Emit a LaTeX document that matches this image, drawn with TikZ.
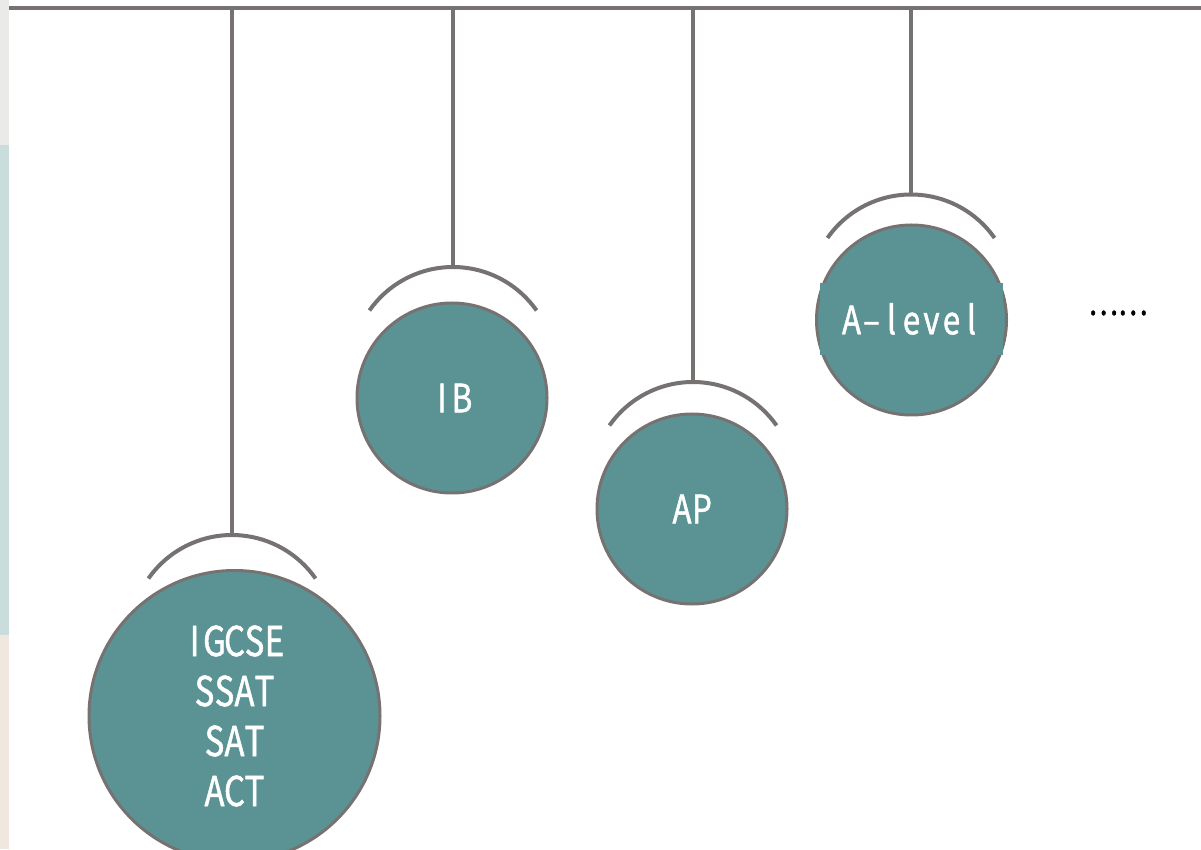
\documentclass[tikz,border=0pt]{standalone}
\usepackage{fontspec}
\setmainfont{Noto Sans CJK SC}[FakeStretch=0.8,FakeBold=1.2]
\usepackage{tikz}

\definecolor{pendant}{RGB}{91,147,149}
\definecolor{wire}{RGB}{118,114,114}
\definecolor{edgegrey}{RGB}{234,234,232}
\definecolor{edgeteal}{RGB}{201,222,220}
\definecolor{edgesand}{RGB}{240,232,222}

\newcommand{\monochar}[1]{\makebox[20pt]{#1}}
\def\mono#1{\monoloop#1\relax}
\def\monoloop#1{\ifx#1\relax\else\monochar{#1}\expandafter\monoloop\fi}

\begin{document}
\begin{tikzpicture}[x=1pt,y=1pt,
  wireline/.style={draw=wire,line width=4pt},
  ball/.style={circle,draw=wire,fill=pendant,line width=3pt,text=white,align=center,
    font=\fontsize{39}{50}\selectfont,minimum size=190pt}]
\useasboundingbox (0,0) rectangle (1201,849);
\fill[edgegrey] (0,704) rectangle (9,849);
\fill[edgeteal] (0,214) rectangle (9,704);
\fill[edgesand] (0,0) rectangle (9,214);

\coordinate (L) at (9,841);
\coordinate (R) at (1201,841);
\draw[wireline] (L) -- (R);

\coordinate (t1) at (232,841);
\coordinate (t2) at (453,841);
\coordinate (t3) at (693,841);
\coordinate (t4) at (911,841);
\coordinate (h1) at (232,314);
\coordinate (h2) at (453,582);
\coordinate (h3) at (693,467);
\coordinate (h4) at (911,654.5);

\node[ball,minimum size=291pt,font=\fontsize{41}{50}\selectfont] (v1) at (234.5,133)
  {\mono{IGCSE}\\\mono{SSAT}\\\mono{SAT}\\\mono{ACT}};
\node[ball] (v2) at (452,451) {\mono{IB}};
\node[ball] (v3) at (692,340) {\mono{AP}};
\node[ball] (v4) at (911.5,529) {};
\node[fill=pendant,text=white,minimum width=183pt,minimum height=72pt,
  font=\fontsize{39}{50}\selectfont] (a4) at (911.5,530) {\mono{A–level}};

\draw[wireline] (t1) -- (h1);
\draw[wireline] (t2) -- (h2);
\draw[wireline] (t3) -- (h3);
\draw[wireline] (t4) -- (h4);
\draw[wireline] ([yshift=-102pt]h1) ++(145:102) arc[start angle=145,end angle=35,radius=102];
\draw[wireline] ([yshift=-102pt]h2) ++(145:102) arc[start angle=145,end angle=35,radius=102];
\draw[wireline] ([yshift=-102pt]h3) ++(145:102) arc[start angle=145,end angle=35,radius=102];
\draw[wireline] ([yshift=-102pt]h4) ++(145:102) arc[start angle=145,end angle=35,radius=102];

\node[font=\fontsize{35}{40}\selectfont] (more) at (1118,536) {……};
\end{tikzpicture}
\end{document}
